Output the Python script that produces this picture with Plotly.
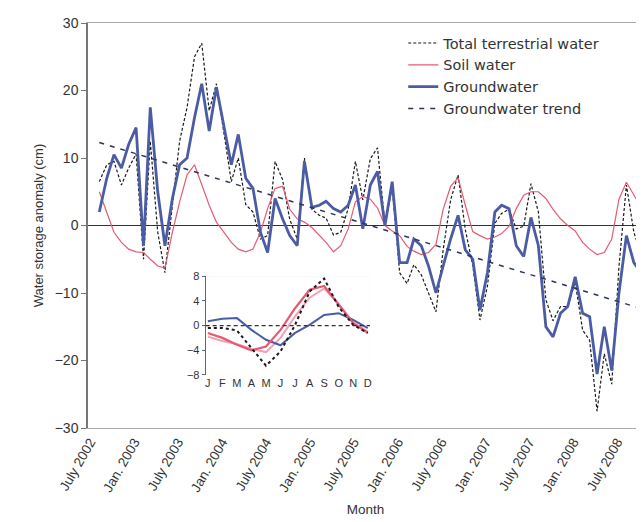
import plotly.graph_objects as go

# ---------------- data ----------------
months = ["2002-08-08","2002-09-08","2002-10-08","2002-11-08","2002-12-08",
          "2003-01-08","2003-02-08","2003-03-08","2003-04-08","2003-05-08","2003-06-08","2003-07-08",
          "2003-08-08","2003-09-08","2003-10-08","2003-11-08","2003-12-08",
          "2004-01-08","2004-02-08","2004-03-08","2004-04-08","2004-05-08","2004-06-08","2004-07-08",
          "2004-08-08","2004-09-08","2004-10-08","2004-11-08","2004-12-08",
          "2005-01-08","2005-02-08","2005-03-08","2005-04-08","2005-05-08","2005-06-08","2005-07-08",
          "2005-08-08","2005-09-08","2005-10-08","2005-11-08","2005-12-08",
          "2006-01-08","2006-02-08","2006-03-08","2006-04-08","2006-05-08","2006-06-08","2006-07-08",
          "2006-08-08","2006-09-08","2006-10-08","2006-11-08","2006-12-08",
          "2007-01-08","2007-02-08","2007-03-08","2007-04-08","2007-05-08","2007-06-08","2007-07-08",
          "2007-08-08","2007-09-08","2007-10-08","2007-11-08","2007-12-08",
          "2008-01-08","2008-02-08","2008-03-08","2008-04-08","2008-05-08","2008-06-08","2008-07-08",
          "2008-08-08","2008-09-08","2008-10-08"]

groundwater = [2, 7, 10.5, 8.5, 12,
               14.5, -3, 17.5, 5, -3, 4, 9,
               10, 16, 21, 14, 20.5,
               15, 9, 13.5, 7, 5.5, -1, -4,
               4, 1, -1.5, -3, 9.5,
               2.7, 3, 3.6, 2.5, 2, 3, 6,
               -0.5, 6, 8, 0, 6.5,
               -5.5, -5.5, -2, -3, -6, -10, -6,
               -2, 1.5, -3.6, -5, -12.5,
               -7, 2, 3, 2.5, -3, -4.6, 1.2,
               -3, -15, -16.5, -13, -12,
               -7.6, -13, -13.5, -22, -15, -21.5, -10,
               -1.5, -5.5, -7]

soil_water = [5, 2, -1, -2.5, -3.5,
              -3.9, -4, -5, -6, -6.3, -1, 3.5,
              7.5, 9, 6, 3, 0.5,
              -1, -2.5, -3.5, -3.9, -3.5, -1, 2.5,
              5.5, 5.8, 2.4, 1, 0.5,
              -0.3, -1.5, -2.5, -3.9, -3, -0.5, 3.5,
              4.3, 3.9, 2.6, 0, -0.8,
              -1.5, -3.1, -3.8, -4.3, -4, -2.8, 2.4,
              5.8, 7.1, 3, -0.9, -1.5,
              -2, -1.7, -1.2, -0.1, 2.5, 4.5, 5,
              5, 4, 2.4, 1, 0,
              -0.8, -2.5, -3.5, -4.3, -4, -2, 3.9,
              6.4, 4.5, 2.7]

total_water = [6.5, 9, 9.5, 6, 8.5,
               10.6, -5, 12.5, -1, -7, 3, 12.5,
               17.5, 25, 27, 17, 21,
               14, 6.5, 10, 3.1, 2, -2, -1.5,
               9.5, 6.8, 0.9, -2, 10,
               2.4, 1.5, 1.1, -1.4, -1, 2.5, 9.5,
               3.8, 9.9, 11.5, 0, 5.7,
               -7, -8.6, -5.8, -7.3, -10, -12.8, -3.6,
               3.8, 7.5, -0.6, -5.9, -14,
               -9, 0.3, 1.8, 2.4, -0.5, -0.1, 6.2,
               2, -11, -14.1, -12, -12,
               -8.4, -15.5, -17, -27.5, -19, -23.5, -6.1,
               6, -1, -4.3]

trend_dates = ["2002-08-08", "2008-10-08"]
trend_values = [12.3, -12.3]

tick_dates = ["2002-07-01","2003-01-01","2003-07-01","2004-01-01","2004-07-01","2005-01-01",
              "2005-07-01","2006-01-01","2006-07-01","2007-01-01","2007-07-01","2008-01-01","2008-07-01"]
tick_labels = ["July 2002","Jan. 2003","July 2003","Jan. 2004","July 2004","Jan. 2005",
               "July 2005","Jan. 2006","July 2006","Jan. 2007","July 2007","Jan. 2008","July 2008"]

# inset: mean seasonal cycle
inset_month = [1,2,3,4,5,6,7,8,9,10,11,12]
inset_labels = ["J","F","M","A","M","J","J","A","S","O","N","D"]
inset_total = [-0.4, -0.4, -0.8, -3.7, -6.5, -4.2, 0.1, 5.5, 7.6, 3.0, 0.1, -1.2]
inset_soil = [-1.2, -2.0, -3.1, -4.0, -3.4, -0.7, 2.8, 5.8, 6.4, 3.4, 0.4, -1.2]
inset_soil2 = [-1.8, -2.5, -3.0, -3.8, -4.3, -2.0, 1.5, 4.5, 6.0, 3.5, 0.5, -1.0]
inset_gw = [0.7, 1.1, 1.2, -0.7, -2.3, -3.2, -1.2, 0.1, 1.7, 2.0, 0.9, -0.4]

# ---------------- styles ----------------
FONT = "Liberation Sans, Arial, sans-serif"
BLUE = "#4c5ca4"
RED = "#e65a74"
BLACK = "#1a1a1a"
NAVY = "#2a3560"

fig = go.Figure()

fig.add_trace(go.Scatter(x=months, y=total_water, mode="lines", name="Total terrestrial water",
                         line=dict(color=BLACK, width=1.2, dash="3px,2px")))
fig.add_trace(go.Scatter(x=months, y=soil_water, mode="lines", name="Soil water",
                         line=dict(color=RED, width=1.2)))
fig.add_trace(go.Scatter(x=months, y=groundwater, mode="lines", name="Groundwater",
                         line=dict(color=BLUE, width=2.8)))
fig.add_trace(go.Scatter(x=trend_dates, y=trend_values, mode="lines", name="Groundwater trend",
                         line=dict(color=NAVY, width=1.5, dash="5px,6px")))

# inset traces
fig.add_trace(go.Scatter(x=inset_month, y=inset_soil2, xaxis="x2", yaxis="y2", mode="lines",
                         line=dict(color="#f2a0b4", width=2), showlegend=False))
fig.add_trace(go.Scatter(x=inset_month, y=inset_gw, xaxis="x2", yaxis="y2", mode="lines",
                         line=dict(color=BLUE, width=2), showlegend=False))
fig.add_trace(go.Scatter(x=inset_month, y=inset_soil, xaxis="x2", yaxis="y2", mode="lines",
                         line=dict(color=RED, width=2.2), showlegend=False))
fig.add_trace(go.Scatter(x=inset_month, y=inset_total, xaxis="x2", yaxis="y2", mode="lines",
                         line=dict(color=BLACK, width=2, dash="dot"), showlegend=False))

fig.update_layout(
    width=644, height=522,
    margin=dict(l=80, r=7, t=15, b=102),
    paper_bgcolor="white", plot_bgcolor="white",
    font=dict(family=FONT, size=12, color="#333"),
    showlegend=True,
    legend=dict(x=0.568, y=0.99, xanchor="left", yanchor="top",
                bgcolor="rgba(0,0,0,0)",
                font=dict(family="DejaVu Sans, sans-serif", size=14.5, color="#333"),
                tracegroupgap=0, itemwidth=30),
    xaxis=dict(type="date", range=["2002-06-22", "2008-10-16"],
               tickvals=tick_dates, ticktext=tick_labels, tickangle=-60,
               showgrid=False, zeroline=False, showline=True, linecolor="#aaa",
               mirror=True, ticks="", tickfont=dict(size=13.5, color="#333"),
               title=dict(text="Month", font=dict(size=13.5, color="#333"), standoff=10)),
    yaxis=dict(range=[-30, 30], tickvals=[-30, -20, -10, 0, 10, 20, 30],
               showgrid=False, zeroline=True, zerolinecolor="#333", zerolinewidth=1.2,
               showline=True, linecolor="#777", linewidth=1.5, ticks="outside", ticklen=5,
               tickcolor="#777", tickfont=dict(size=14, color="#333"),
               title=dict(text="Water storage anomaly (cm)", font=dict(size=13, color="#333"),
                          standoff=8)),
    xaxis2=dict(domain=[0.212, 0.508], anchor="y2", range=[0.85, 12.15],
                tickvals=inset_month, ticktext=inset_labels, showgrid=False, zeroline=False,
                showline=False, ticks="", tickfont=dict(size=11, color="#333")),
    yaxis2=dict(domain=[0.131, 0.375], anchor="x2", range=[-8, 8],
                tickvals=[-8, -4, 0, 4, 8], showgrid=False, zeroline=False,
                showline=True, linecolor="#666", ticks="outside", ticklen=3, tickcolor="#666",
                tickfont=dict(size=11, color="#333")),
    shapes=[
        dict(type="rect", xref="x2 domain", yref="y2 domain", x0=0, x1=1, y0=0, y1=1,
             fillcolor="#c4c4c4", line=dict(width=0), layer="below"),
        dict(type="line", xref="x2 domain", yref="y2", x0=0, x1=1, y0=0, y1=0,
             line=dict(color="#333", width=1.2, dash="4px,3px")),
    ],
)

fig.write_html("out.html")
